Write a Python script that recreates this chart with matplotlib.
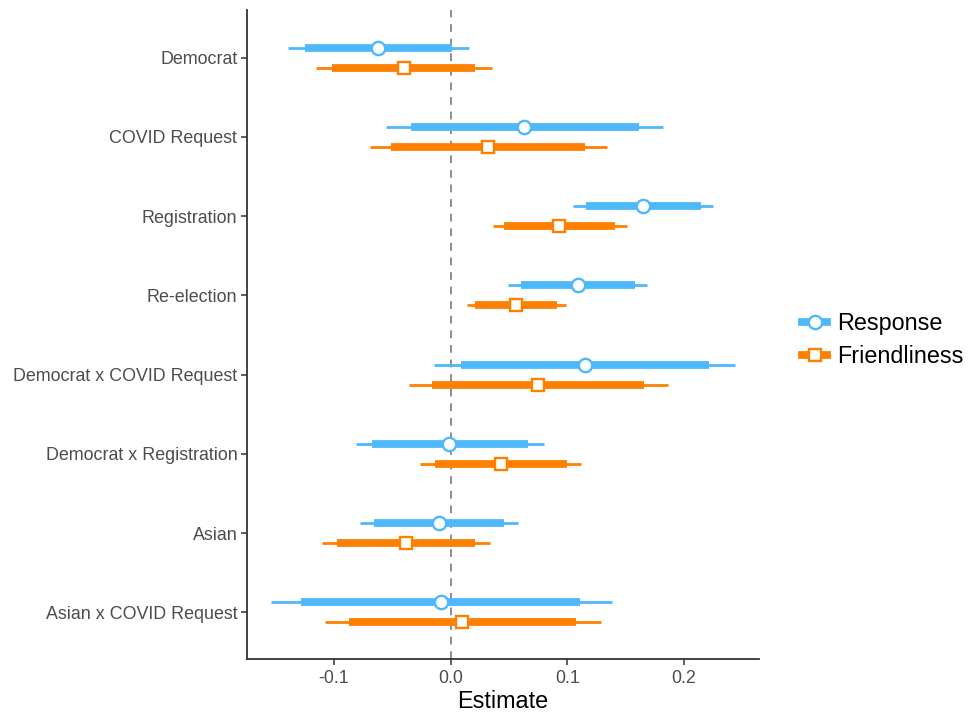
import matplotlib
matplotlib.use("Agg")
import matplotlib.pyplot as plt
import numpy as np
from matplotlib.lines import Line2D

plt.rcParams['font.family'] = ['Liberation Sans', 'DejaVu Sans']

categories = ["Democrat", "COVID Request", "Registration", "Re-election",
              "Democrat x COVID Request", "Democrat x Registration",
              "Asian", "Asian x COVID Request"]

# Response
resp_est = [-0.062, 0.063, 0.165, 0.109, 0.115, -0.001, -0.010, -0.008]
resp_lo95 = [-0.139, -0.055, 0.105, 0.049, -0.014, -0.081, -0.078, -0.154]
resp_lo90 = [-0.125, -0.034, 0.116, 0.060, 0.009, -0.067, -0.066, -0.128]
resp_hi90 = [0.001, 0.161, 0.2145, 0.158, 0.221, 0.066, 0.046, 0.111]
resp_hi95 = [0.016, 0.182, 0.225, 0.1685, 0.244, 0.080, 0.058, 0.138]

# Friendliness
fr_est = [-0.040, 0.032, 0.093, 0.056, 0.075, 0.043, -0.038, 0.010]
fr_lo95 = [-0.115, -0.069, 0.036, 0.014, -0.036, -0.026, -0.110, -0.108]
fr_lo90 = [-0.1015, -0.051, 0.046, 0.021, -0.016, -0.0135, -0.097, -0.087]
fr_hi90 = [0.021, 0.115, 0.141, 0.091, 0.166, 0.100, 0.021, 0.107]
fr_hi95 = [0.035, 0.134, 0.151, 0.0985, 0.186, 0.112, 0.034, 0.1285]

xticks = [-0.1, 0.0, 0.1, 0.2]
xticklabels = ["-0.1", "0.0", "0.1", "0.2"]

blue = "#4DB8FB"
orange = "#FF7F00"

fig = plt.figure(figsize=(9.71, 7.13), dpi=100)
ax = fig.add_axes([247/971, 1-659/713, (759-247)/971, (659-10)/713])

n = len(categories)
ypos = np.arange(n, 0, -1)
off = 0.126

series = [
    (resp_est, resp_lo95, resp_lo90, resp_hi90, resp_hi95, blue, 'o', +off, "Response", 9.6),
    (fr_est, fr_lo95, fr_lo90, fr_hi90, fr_hi95, orange, 's', -off, "Friendliness", 8.6),
]
handles = []
for est, lo95, lo90, hi90, hi95, col, mk, dy, lab, ms in series:
    y = ypos + dy
    ax.hlines(y, lo95, hi95, color=col, lw=2.0, zorder=2)
    ax.hlines(y, lo90, hi90, color=col, lw=5.6, zorder=3)
    ax.plot(est, y, linestyle='none', marker=mk, markersize=ms,
            markerfacecolor='white', markeredgecolor=col, markeredgewidth=1.7, zorder=4)
    handles.append(Line2D([0], [0], color=col, lw=5.6, marker=mk, markersize=ms,
                          markerfacecolor='white', markeredgecolor=col,
                          markeredgewidth=1.7, label=lab))

ax.axvline(0, color='#8c8c8c', lw=1.4, ls=(0, (4, 3.5)), zorder=1)

ax.set_xlim(-0.1745, 0.2642)
ax.set_ylim(0.41, 8.6)
ax.set_yticks(ypos)
ax.set_yticklabels(categories)
ax.set_xticks(xticks)
ax.set_xticklabels(xticklabels)
ax.tick_params(axis='both', labelsize=12.9, colors='#4d4d4d', length=4, width=1.1,
               color='#333333')
ax.tick_params(axis='y', pad=3)
ax.tick_params(axis='x', pad=4)
for s in ['top', 'right']:
    ax.spines[s].set_visible(False)
for s in ['left', 'bottom']:
    ax.spines[s].set_color('#333333')
    ax.spines[s].set_linewidth(1.3)
ax.set_xlabel("Estimate", fontsize=16.8, color='black', labelpad=2)

leg = fig.legend(handles=handles, loc='center left', bbox_to_anchor=(793/971, 1-340/713),
                 frameon=False, fontsize=16.8, handlelength=1.05, handletextpad=0.45,
                 labelspacing=0.45, borderaxespad=0)

fig.savefig("out.png", dpi=100)
